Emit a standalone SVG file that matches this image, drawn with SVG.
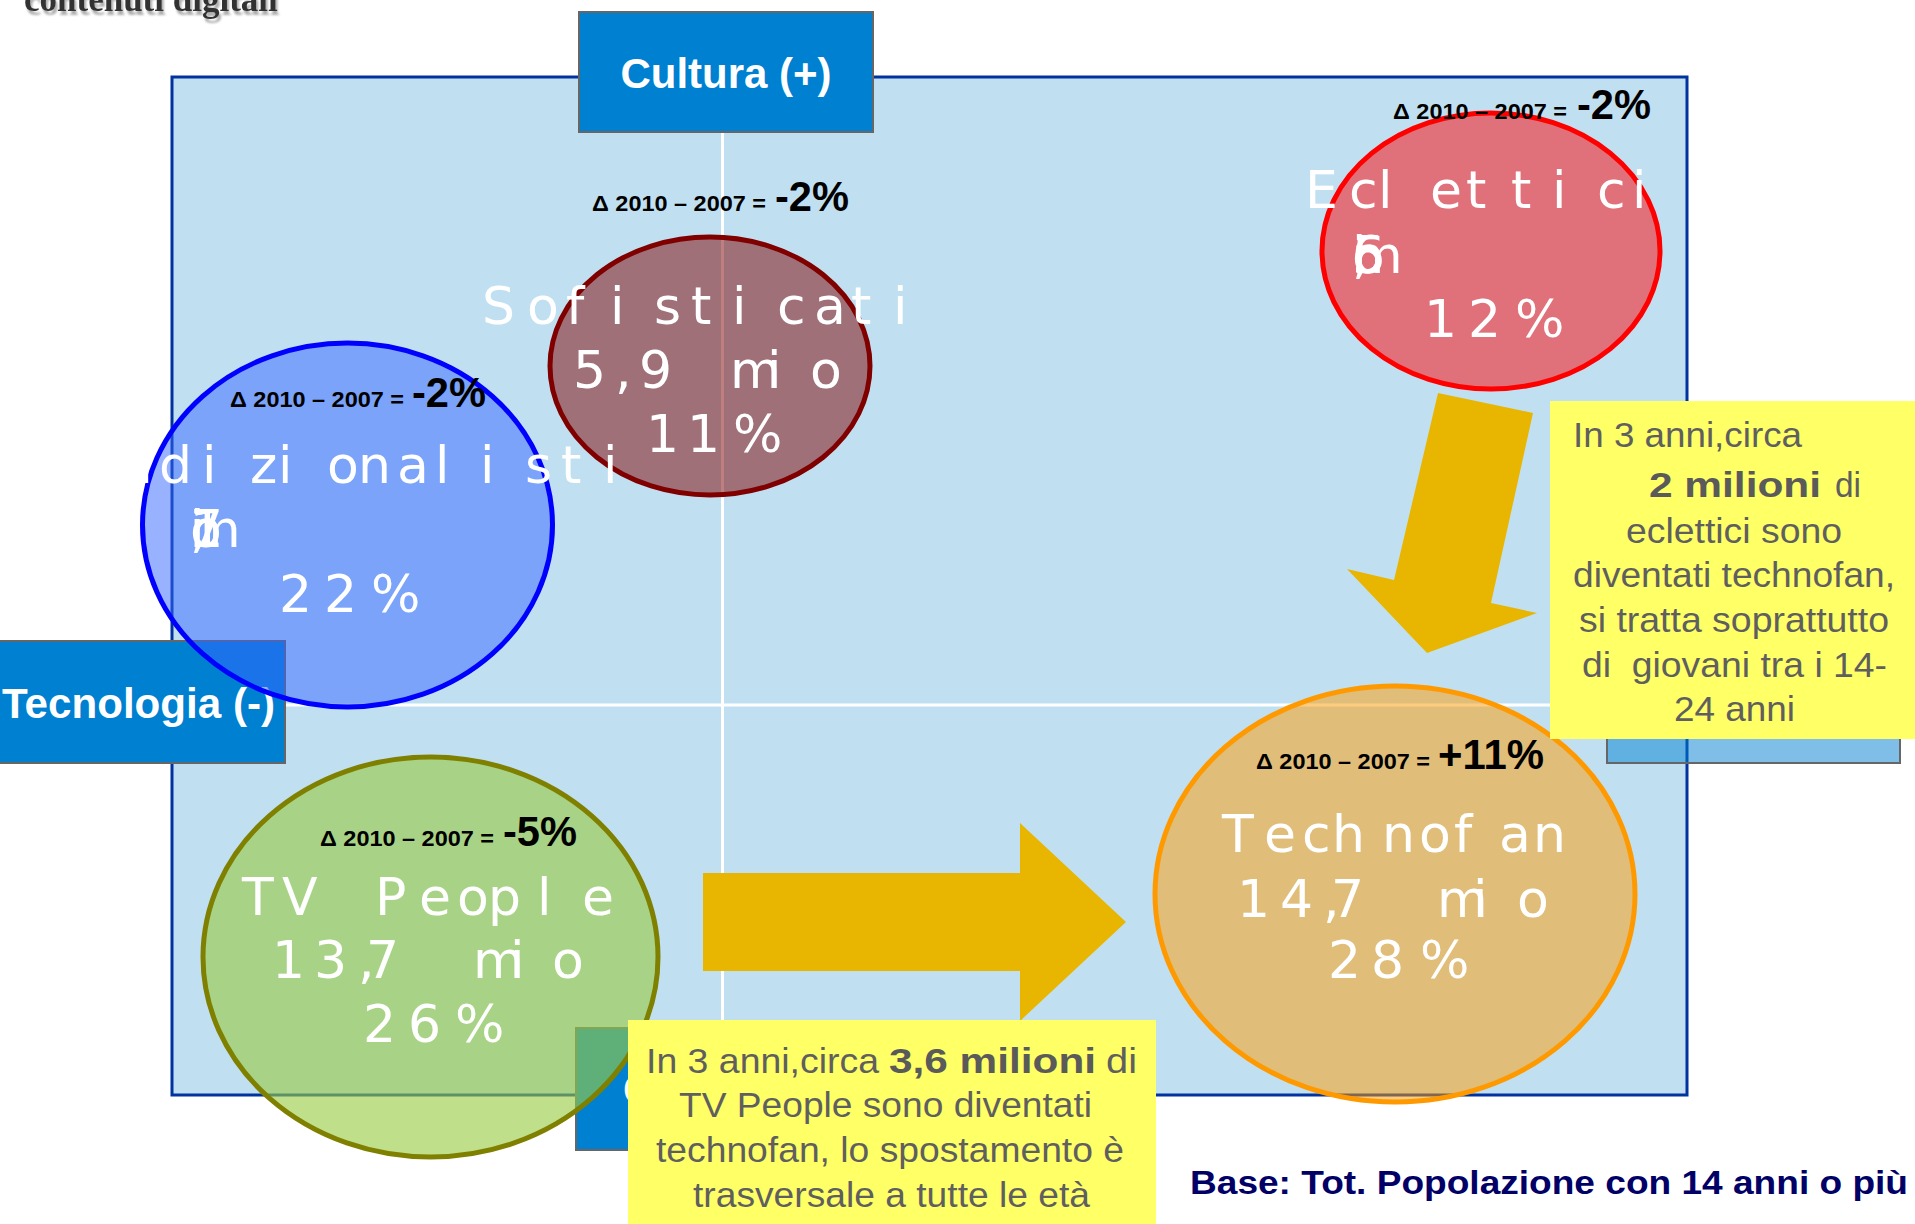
<svg xmlns="http://www.w3.org/2000/svg" width="1915" height="1224" viewBox="0 0 1915 1224">
<defs>
<filter id="shadow" x="-5%" y="-50%" width="110%" height="200%">
<feDropShadow dx="2" dy="4" stdDeviation="1" flood-color="#999999" flood-opacity="0.8"/>
</filter>
</defs>
<style>
.lbl{font-family:"DejaVu Sans",sans-serif;font-size:52px;fill:#ffffff}
.axis{font-family:"Liberation Sans",Arial,sans-serif;font-weight:bold;font-size:42px;fill:#ffffff}
.dsm{font-family:"Liberation Sans",Arial,sans-serif;font-weight:bold;font-size:22px;fill:#000000}
.dbg{font-family:"Liberation Sans",Arial,sans-serif;font-weight:bold;font-size:42px;fill:#000000}
.note{font-family:"Liberation Sans",Arial,sans-serif;font-size:35px;fill:#5f5f5f}
.noteb{font-family:"Liberation Sans",Arial,sans-serif;font-size:35px;font-weight:bold;fill:#5a5a5a}
.box{fill:#0080d0;stroke:#666666;stroke-width:2}
.yel{fill:#ffff66}
.arr{fill:#e8b600}
</style>
<rect width="1915" height="1224" fill="#ffffff"/>
<g id="title">
<text x="24" y="11" font-family="Liberation Serif,serif" font-weight="bold" font-size="35" fill="#333333" filter="url(#shadow)">contenuti digitali</text>
</g>
<g id="map">
<rect x="172" y="77" width="1515" height="1018" fill="#c0e0f2" stroke="#0033a0" stroke-width="3"/>
<line x1="722.5" y1="132" x2="722.5" y2="1095" stroke="#ffffff" stroke-width="3"/>
<line x1="172" y1="705" x2="1687" y2="705" stroke="#ffffff" stroke-width="3"/>
</g>
<g id="axis-cultura-plus">
<rect class="box" x="579" y="12" width="294" height="120"/>
<text class="axis" x="726" y="88" text-anchor="middle">Cultura (+)</text>
</g>
<g id="axis-tecnologia-minus">
<rect class="box" x="-2" y="641" width="287" height="122"/>
<text class="axis" x="2" y="718" textLength="273" lengthAdjust="spacingAndGlyphs">Tecnologia (-)</text>
</g>
<g id="axis-tecnologia-plus">
<rect x="1607" y="641" width="293" height="122" fill="#0080d0" fill-opacity="0.5" stroke="#666666" stroke-width="2"/>
</g>
<g id="axis-cultura-minus">
<rect class="box" x="576" y="1028" width="294" height="122"/>
<text class="axis" x="623" y="1104">C</text>
</g>
<g id="sofisticati">
<ellipse cx="710" cy="366" rx="160" ry="129" fill="#800000" fill-opacity="0.5" stroke="#800000" stroke-width="5"/>
<text class="lbl" x="482 527 566 610 654 691 732 777 814 851 893" y="324">Sofisticati</text>
<text class="lbl" x="573 615 639 690 730 767 810" y="388">5,9 mio</text>
<text class="lbl" x="646 687 733" y="452">11%</text>
</g>
<g id="tradizionalisti">
<ellipse cx="347.5" cy="525" rx="205" ry="182" fill="#3366ff" fill-opacity="0.5" stroke="#0000ff" stroke-width="5"/>
<text class="lbl" x="35 78 121 159 202 250 278 327 358 397 435 480 525 561 603" y="483">Tradizionalisti</text>
<text class="lbl" x="190 190 190 190 190 190 190 190" y="547">11,7 mio</text>
<text class="lbl" x="279 324 371" y="612">22%</text>
</g>
<g id="eclettici">
<ellipse cx="1491" cy="251" rx="169" ry="138" fill="#ff0000" fill-opacity="0.5" stroke="#ff0000" stroke-width="5"/>
<text class="lbl" x="1305 1349 1378 1430 1466 1511 1552 1597 1632" y="208">Eclettici</text>
<text class="lbl" x="1352 1352 1352 1352 1352 1352 1352" y="273">6,5 mio</text>
<text class="lbl" x="1424 1468 1515" y="337">12%</text>
</g>
<g id="tvpeople">
<ellipse cx="430.5" cy="957" rx="227.5" ry="200" fill="#99cc44" fill-opacity="0.62" stroke="#808000" stroke-width="5"/>
<text class="lbl" x="242 282 330 375 419 457 488 537 582" y="915">TV People</text>
<text class="lbl" x="272 314 358 366 420 473 510 552" y="978">13,7 mio</text>
<text class="lbl" x="363 408 455" y="1042">26%</text>
</g>
<g id="technofan">
<ellipse cx="1395" cy="894" rx="240" ry="208" fill="#ff9900" fill-opacity="0.5" stroke="#ff9900" stroke-width="5"/>
<text class="lbl" x="1222 1264 1302 1332 1382 1419 1454 1499 1533" y="852">Technofan</text>
<text class="lbl" x="1237 1280 1323 1331 1380 1437 1473 1517" y="917">14,7 mio</text>
<text class="lbl" x="1328 1371 1420" y="978">28%</text>
</g>
<g id="deltas">
<text class="dsm" x="592" y="211" textLength="174" lengthAdjust="spacingAndGlyphs">Δ 2010 – 2007 =</text>
<text class="dbg" x="775" y="211" textLength="74" lengthAdjust="spacingAndGlyphs">-2%</text>
<text class="dsm" x="230" y="407" textLength="174" lengthAdjust="spacingAndGlyphs">Δ 2010 – 2007 =</text>
<text class="dbg" x="412" y="407" textLength="74" lengthAdjust="spacingAndGlyphs">-2%</text>
<text class="dsm" x="1393" y="119" textLength="174" lengthAdjust="spacingAndGlyphs">Δ 2010 – 2007 =</text>
<text class="dbg" x="1577" y="119" textLength="74" lengthAdjust="spacingAndGlyphs">-2%</text>
<text class="dsm" x="320" y="846" textLength="174" lengthAdjust="spacingAndGlyphs">Δ 2010 – 2007 =</text>
<text class="dbg" x="503" y="846" textLength="74" lengthAdjust="spacingAndGlyphs">-5%</text>
<text class="dsm" x="1256" y="769" textLength="174" lengthAdjust="spacingAndGlyphs">Δ 2010 – 2007 =</text>
<text class="dbg" x="1438" y="769" textLength="106" lengthAdjust="spacingAndGlyphs">+11%</text>
</g>
<g id="connectors">
<polygon class="arr" points="703,873 1020,873 1020,823 1126,922 1020,1021 1020,971 703,971"/>
<polygon class="arr" points="1438,393 1533,413 1491,603 1537,613 1427,653 1347,569 1394,580"/>
</g>
<g id="note-right">
<rect class="yel" x="1550" y="401" width="366" height="338"/>
<text class="note" x="1573" y="447" textLength="229" lengthAdjust="spacingAndGlyphs">In 3 anni,circa</text>
<text class="noteb" x="1649" y="497" textLength="172" lengthAdjust="spacingAndGlyphs">2 milioni</text>
<text class="note" x="1835" y="497" textLength="26" lengthAdjust="spacingAndGlyphs">di</text>
<text class="note" x="1626" y="543" textLength="216" lengthAdjust="spacingAndGlyphs">eclettici sono</text>
<text class="note" x="1573" y="587" textLength="322" lengthAdjust="spacingAndGlyphs">diventati technofan,</text>
<text class="note" x="1579" y="632" textLength="310" lengthAdjust="spacingAndGlyphs">si tratta soprattutto</text>
<text class="note" x="1582" y="677" textLength="305" lengthAdjust="spacingAndGlyphs" xml:space="preserve">di  giovani tra i 14-</text>
<text class="note" x="1674" y="721" textLength="121" lengthAdjust="spacingAndGlyphs">24 anni</text>
</g>
<g id="note-bottom">
<rect class="yel" x="628" y="1020" width="528" height="204"/>
<text class="note" x="646" y="1073" textLength="233" lengthAdjust="spacingAndGlyphs">In 3 anni,circa</text>
<text class="noteb" x="889" y="1073" textLength="207" lengthAdjust="spacingAndGlyphs">3,6 milioni</text>
<text class="note" x="1106" y="1073" textLength="31" lengthAdjust="spacingAndGlyphs">di</text>
<text class="note" x="679" y="1117" textLength="413" lengthAdjust="spacingAndGlyphs">TV People sono diventati</text>
<text class="note" x="656" y="1162" textLength="468" lengthAdjust="spacingAndGlyphs">technofan, lo spostamento è</text>
<text class="note" x="693" y="1207" textLength="397" lengthAdjust="spacingAndGlyphs">trasversale a tutte le età</text>
</g>
<g id="base">
<text x="1190" y="1194" font-family="Liberation Sans,Arial,sans-serif" font-weight="bold" font-size="33" fill="#000066" textLength="718" lengthAdjust="spacingAndGlyphs">Base: Tot. Popolazione con 14 anni o più</text>
</g>
</svg>
